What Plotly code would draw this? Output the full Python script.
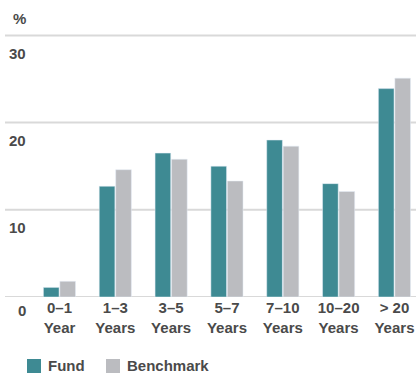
import plotly.graph_objects as go

# Maturity buckets and their allocation (%) for the fund and its benchmark
categories = ["0–1<br>Year", "1–3<br>Years", "3–5<br>Years", "5–7<br>Years",
              "7–10<br>Years", "10–20<br>Years", "> 20<br>Years"]
fund = [1.1, 12.7, 16.5, 15.0, 18.0, 13.0, 23.9]
benchmark = [1.8, 14.6, 15.8, 13.3, 17.3, 12.1, 25.1]

series_names = ["Fund", "Benchmark"]
y_ticks = [0, 10, 20, 30]
y_tick_labels = ["0", "10", "20", "30"]

TEAL = "#3e8a93"
GREY = "#bbbcc0"
TEXT = "#4a4a4a"
GRID = "#d9d9d9"
FONT = "Liberation Sans"
W, H = 416, 374
L, T, B = 31, 30, 77
PW, PH = W - L, H - T - B


def px_x(px):
    """Pixel column -> paper x."""
    return (px - L) / PW


def px_y(py):
    """Pixel row (from top) -> paper y."""
    return (H - B - py) / PH


fig = go.Figure()
for name, vals, col in zip(series_names, [fund, benchmark], [TEAL, GREY]):
    fig.add_trace(go.Bar(name=name, x=categories, y=vals, marker_color=col,
                         showlegend=False))

# horizontal rules running under the y labels, out to the left edge
for v in y_ticks:
    fig.add_shape(type="line", xref="paper", yref="y", x0=px_x(5), x1=1, y0=v, y1=v,
                  line=dict(color=GRID, width=2), layer="below")

# y labels sit just beneath each rule
for v, t in zip(y_ticks, y_tick_labels):
    fig.add_annotation(xref="paper", yref="y", x=px_x(28), y=v, text=t, showarrow=False,
                       xanchor="right", yanchor="middle", yshift=-18 if v else -13,
                       font=dict(family=FONT, size=15, color=TEXT, weight="bold"))

# unit marker above the top rule
fig.add_annotation(xref="paper", yref="paper", x=px_x(11), y=px_y(19), text="%",
                   showarrow=False, xanchor="left", yanchor="middle",
                   font=dict(family=FONT, size=15, color=TEXT, weight="bold"))

# legend: colour squares with labels along the bottom
legend_x = [27, 106]
for name, col, lx in zip(series_names, [TEAL, GREY], legend_x):
    fig.add_shape(type="rect", xref="paper", yref="paper",
                  x0=px_x(lx), x1=px_x(lx + 14),
                  y0=px_y(373), y1=px_y(359),
                  line=dict(width=0), fillcolor=col)
    fig.add_annotation(xref="paper", yref="paper", x=px_x(lx + 19),
                       y=px_y(365), text=name, showarrow=False,
                       xanchor="left", yanchor="middle",
                       font=dict(family=FONT, size=15, color=TEXT, weight="bold"))

fig.update_layout(
    width=W, height=H,
    margin=dict(l=L, r=0, t=T, b=B),
    plot_bgcolor="white", paper_bgcolor="white",
    barmode="group", bargap=0.41, bargroupgap=0.05,
    font=dict(family=FONT, size=15, color=TEXT, weight="bold"),
    showlegend=False,
    xaxis=dict(range=[-0.51, 6.386], showgrid=False, showline=False, zeroline=False,
               ticks="", tickfont=dict(family=FONT, size=15, color=TEXT, weight="bold")),
    yaxis=dict(range=[0, 30.62], showgrid=False, zeroline=False, showticklabels=False,
               ticks=""),
)

fig.write_html("out.html")
